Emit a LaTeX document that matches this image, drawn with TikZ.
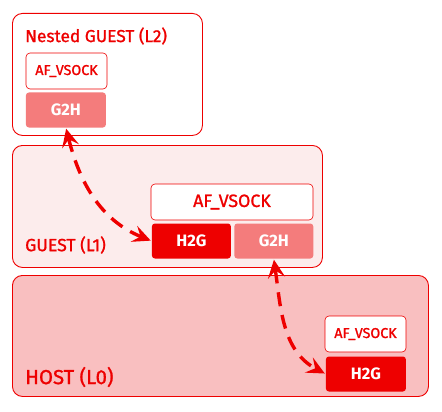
\documentclass[tikz,border=0pt]{standalone}
\usepackage{fontspec}
\setmainfont{Fira Sans}
\newfontfamily\medfont{Fira Sans}[FakeBold=1.2]
\usetikzlibrary{positioning,arrows.meta}
\definecolor{rhred}{HTML}{EE0000}
\definecolor{rhpink}{HTML}{F47C7C}
\definecolor{rhpale}{HTML}{FCECEC}
\definecolor{rhrose}{HTML}{F9BFC0}
\tikzset{
    layer/.style = {rectangle,
                    rounded corners=10pt,
                    draw=rhred,
                    line width=0.9pt,
                    anchor=north west,
                    inner sep=0pt},
    title/.style = {anchor=west,
                    text=rhred,
                    inner sep=0pt},
    vsock/.style = {rectangle,
                    rounded corners=4pt,
                    fill=white,
                    draw=rhred,
                    line width=0.6pt,
                    text=rhred,
                    inner sep=0pt,
                    minimum height=36pt},
    h2g/.style =   {rectangle,
                    rounded corners=3pt,
                    fill=rhred,
                    text=white,
                    font=\bfseries\fontsize{16.5}{18}\selectfont,
                    inner sep=0pt,
                    minimum height=35pt,
                    minimum width=80pt},
    g2h/.style =   {h2g,
                    fill=rhpink},
    link/.style =  {draw=rhred,
                    line width=3.4pt,
                    dash pattern=on 14pt off 9pt,
                    {Stealth[length=18pt,width=17pt,inset=7pt]}-{Stealth[length=18pt,width=17pt,inset=7pt]},
                    shorten >=1pt,
                    shorten <=1pt}
}

\begin{document}
\begin{tikzpicture}[x=1pt,y=-1pt]
    \useasboundingbox (0,0) rectangle (442,412);

    % layers
    \node[layer, fill=white, minimum width=190pt, minimum height=122pt]  (Ltwo)   at (12,13)  {};
    \node[layer, fill=rhpale, minimum width=310pt, minimum height=122pt] (Lone)   at (12,145) {};
    \node[layer, fill=rhrose, minimum width=416pt, minimum height=121pt] (Lzero)  at (12,275) {};

    \node[title, font=\medfont\fontsize{17.3}{19}\selectfont] (tTwo)  at (25,36)  {Nested GUEST (L2)};
    \node[title, font=\medfont\fontsize{17.6}{19}\selectfont] (tOne)  at (25,245) {GUEST (L1)};
    \node[title, font=\medfont\fontsize{20.3}{22}\selectfont] (tZero) at (25,377) {HOST (L0)};

    % nested guest
    \node[vsock, minimum width=81pt, font=\medfont\fontsize{14.3}{16}\selectfont] (vsTwo) at (66.5,71) {AF\_VSOCK};
    \node[g2h, below right=3pt and 0pt of vsTwo.south west]                       (gTwo)  {G2H};

    % guest
    \node[vsock, minimum width=162pt, font=\medfont\fontsize{17.8}{20}\selectfont] (vsOne) at (232,202) {AF\_VSOCK};
    \node[h2g, minimum width=79pt, below right=3pt and 1pt of vsOne.south west] (hOne) {H2G};
    \node[g2h, minimum width=79pt, right=3pt of hOne]                           (gOne) {G2H};

    % host
    \node[vsock, minimum width=81pt, font=\medfont\fontsize{14.3}{16}\selectfont] (vsZero) at (365.5,334) {AF\_VSOCK};
    \node[h2g, below right=4pt and 1pt of vsZero.south west]                      (hZero)  {H2G};

    \draw[link] (gTwo.south) to[out=-76, in=158] (hOne.west);
    \draw[link] (gOne.south) to[out=-82, in=152] (hZero.west);
\end{tikzpicture}
\end{document}
